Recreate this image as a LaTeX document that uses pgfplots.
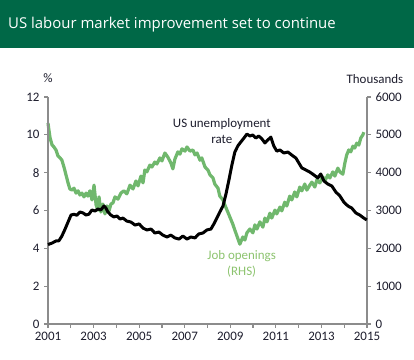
\documentclass[border=0pt]{standalone}
\usepackage{pgfplots}
\pgfplotsset{compat=1.18}
\usepackage{fontspec}
\setmainfont{Carlito}
\newfontfamily\titlefont{Open Sans}
\definecolor{banner}{HTML}{006847}
\definecolor{jobgreen}{HTML}{70B86D}
\definecolor{jobtext}{HTML}{8DC46F}
\definecolor{axgray}{HTML}{8C8C8C}
\definecolor{labcol}{HTML}{1E1E2E}
\begin{document}
\begin{tikzpicture}[x=1bp,y=1bp]
\fill[white] (0,0) rectangle (414,360);
\fill[banner] (0,312) rectangle (414,360);
\node[anchor=west, text=white, font=\titlefont\fontsize{15}{18}\selectfont, inner sep=0pt] at (8,335) {US labour market improvement set to continue};
\pgfplotsset{
  common/.style={
    at={(48bp,36bp)}, anchor=south west, scale only axis,
    width=319bp, height=227bp,
    xmin=2001, xmax=2015,
    tick align=outside,
    major tick length=4bp, minor tick length=4bp,
    every tick/.style={axgray, line width=1.2bp},
    axis line style={axgray, line width=2bp},
    tick label style={font=\fontsize{13}{15}\selectfont, text=labcol},
    /pgf/number format/assume math mode=true,
    /pgf/number format/1000 sep={},
    clip=false,
  }
}
\begin{axis}[common,
  ymin=0, ymax=6000,
  axis y line*=right, axis x line*=bottom,
  xtick={2001,2003,...,2015}, minor xtick={2002,2004,...,2014},
  ytick={0,1000,...,6000},
  yticklabel style={xshift=1bp},
  xticklabel style={yshift=-1bp},
]
\addplot[jobgreen, line width=3.2bp, line join=round] coordinates {
(2001.00,5310)(2001.04,5130)(2001.09,4920)(2001.18,4730)(2001.26,4680)(2001.35,4600)
(2001.44,4440)(2001.53,4390)(2001.61,4330)(2001.70,4150)(2001.79,3940)(2001.88,3730)
(2001.96,3570)(2002.05,3540)(2002.14,3590)(2002.23,3460)(2002.32,3520)(2002.40,3410)
(2002.49,3460)(2002.58,3360)(2002.67,3460)(2002.75,3380)(2002.84,3520)(2002.93,3280)
(2003.02,3670)(2003.11,3150)(2003.19,3010)(2003.24,3360)(2003.32,2960)(2003.41,3170)
(2003.50,2910)(2003.59,3120)(2003.68,2990)(2003.76,3170)(2003.85,3200)(2003.94,3360)
(2004.07,3300)(2004.20,3460)(2004.33,3520)(2004.46,3440)(2004.60,3670)(2004.73,3570)
(2004.86,3780)(2004.95,3650)(2005.08,3910)(2005.17,3730)(2005.25,4070)(2005.34,4020)
(2005.47,4200)(2005.56,4150)(2005.69,4280)(2005.78,4230)(2005.91,4390)(2006.00,4310)
(2006.13,4520)(2006.26,4410)(2006.39,4260)(2006.48,4100)(2006.57,4360)(2006.70,4550)
(2006.79,4490)(2006.88,4630)(2007.01,4570)(2007.10,4680)(2007.23,4570)(2007.36,4600)
(2007.45,4470)(2007.54,4520)(2007.67,4330)(2007.75,4390)(2007.89,4150)(2008.02,4070)
(2008.11,3940)(2008.24,3860)(2008.32,3700)(2008.46,3590)(2008.54,3380)(2008.68,3280)
(2008.76,3150)(2008.89,2960)(2008.98,2830)(2009.11,2640)(2009.20,2480)(2009.29,2330)
(2009.42,2110)(2009.55,2300)(2009.64,2220)(2009.73,2410)(2009.86,2510)(2009.99,2410)
(2010.08,2620)(2010.17,2510)(2010.30,2700)(2010.43,2560)(2010.52,2800)(2010.61,2700)
(2010.74,2930)(2010.82,2800)(2010.96,3010)(2011.04,2910)(2011.18,3090)(2011.26,2990)
(2011.39,3220)(2011.48,3120)(2011.61,3380)(2011.70,3280)(2011.83,3490)(2011.92,3360)
(2012.05,3620)(2012.14,3520)(2012.27,3700)(2012.36,3540)(2012.49,3670)(2012.58,3750)
(2012.71,3620)(2012.80,3810)(2012.93,3730)(2013.06,3890)(2013.15,3780)(2013.28,3940)
(2013.37,3860)(2013.50,4020)(2013.59,3910)(2013.72,4120)(2013.81,4020)(2013.94,3960)
(2014.03,4260)(2014.11,4470)(2014.20,4600)(2014.29,4550)(2014.38,4700)(2014.46,4650)
(2014.55,4780)(2014.64,4730)(2014.73,4920)(2014.82,5000)(2014.86,5070)
};
\node[font=\fontsize{13}{15}\selectfont, text=labcol] at (rel axis cs:1.025,1.08) {Thousands};
\end{axis}
\begin{axis}[common,
  ymin=0, ymax=12,
  axis y line*=left, axis x line=none,
  ytick={0,2,...,12},
  yticklabel style={xshift=-1bp},
]
\addplot[black, line width=3bp, line join=round] coordinates {
(2001.00,4.20)(2001.18,4.28)(2001.35,4.39)(2001.48,4.40)(2001.61,4.65)(2001.75,5.02)
(2001.88,5.39)(2002.01,5.76)(2002.14,5.80)(2002.27,5.75)(2002.40,5.92)(2002.54,5.87)
(2002.67,5.76)(2002.80,5.81)(2002.93,6.03)(2003.06,5.97)(2003.19,6.08)(2003.32,6.03)
(2003.46,6.24)(2003.54,6.13)(2003.63,5.92)(2003.76,5.76)(2003.89,5.66)(2004.03,5.71)
(2004.16,5.55)(2004.29,5.60)(2004.46,5.44)(2004.64,5.39)(2004.82,5.23)(2005.00,5.29)
(2005.17,5.07)(2005.34,4.97)(2005.52,5.02)(2005.69,4.81)(2005.87,4.86)(2006.04,4.70)
(2006.22,4.60)(2006.39,4.70)(2006.57,4.55)(2006.75,4.49)(2006.92,4.65)(2007.10,4.49)
(2007.27,4.60)(2007.45,4.55)(2007.62,4.76)(2007.80,4.81)(2007.97,4.97)(2008.15,5.02)
(2008.28,5.29)(2008.41,5.60)(2008.54,5.92)(2008.68,6.24)(2008.81,6.87)(2008.94,7.61)
(2009.07,8.40)(2009.20,9.09)(2009.33,9.41)(2009.46,9.62)(2009.60,9.83)(2009.73,10.04)
(2009.86,9.94)(2009.99,9.99)(2010.12,9.83)(2010.25,9.94)(2010.39,9.78)(2010.52,9.57)
(2010.65,9.73)(2010.78,9.88)(2010.91,9.41)(2011.04,9.14)(2011.18,9.20)(2011.35,9.04)
(2011.53,9.09)(2011.70,8.93)(2011.88,8.77)(2012.01,8.51)(2012.14,8.25)(2012.32,8.14)
(2012.49,8.03)(2012.67,7.88)(2012.84,7.72)(2012.97,7.93)(2013.11,7.56)(2013.28,7.40)
(2013.46,7.29)(2013.63,6.98)(2013.81,6.77)(2013.98,6.45)(2014.16,6.24)(2014.33,6.13)
(2014.51,5.87)(2014.68,5.76)(2014.86,5.60)(2014.99,5.50)
};
\node[font=\fontsize{13}{15}\selectfont, text=labcol] at (axis cs:2001,13.0) {\%};
\node[font=\fontsize{13}{16}\selectfont, text=labcol, align=center] at (axis cs:2008.63,10.2) {US unemployment\\rate};
\node[font=\fontsize{13}{16}\selectfont, text=jobtext, align=center] at (axis cs:2009.5,3.2) {Job openings\\(RHS)};
\end{axis}
\end{tikzpicture}
\end{document}
